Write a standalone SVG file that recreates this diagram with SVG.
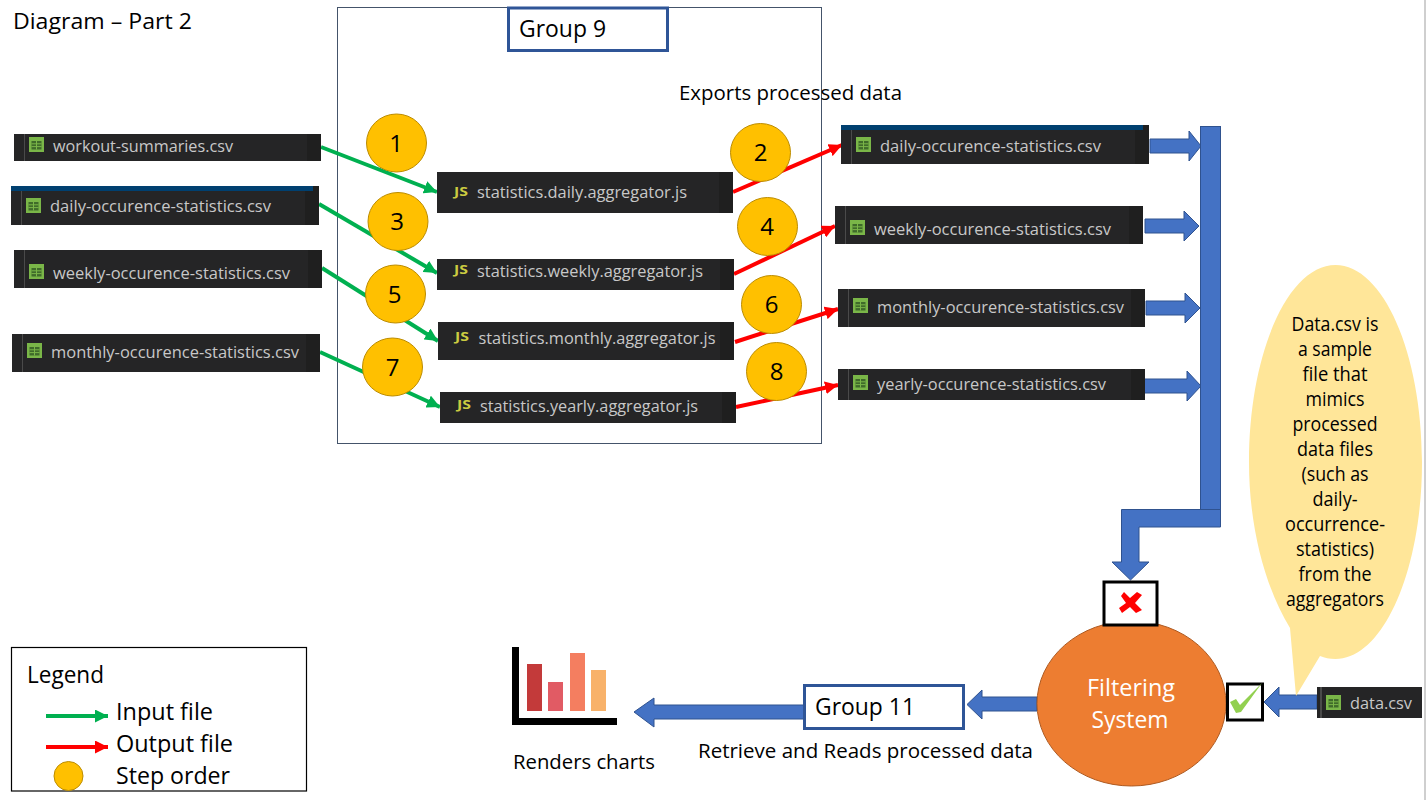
<svg xmlns="http://www.w3.org/2000/svg" width="1428" height="800" viewBox="0 0 1428 800">
<style>
text{font-family:"Open Sans","Noto Sans","Liberation Sans",sans-serif;fill:#000}
.t{font-size:20.5px}
.g{font-size:24px}
.f{font-size:17px;fill:#c8c8c8}
.c{font-size:19.5px;text-anchor:middle}
.n{font-size:24px;text-anchor:middle}
.w{font-size:24.5px;fill:#fff;text-anchor:middle}
.js{font-size:12px;font-weight:700;fill:#cbcb41}
.tile{fill:#252526}
.side{fill:#1f1f1f}
.sep{fill:#4a4a4a}
.band{fill:#004070}
.step{fill:#ffc000;stroke:#bc8c00;stroke-width:1}
.blk{fill:#4472c4;stroke:#2f528f;stroke-width:1}
.in{stroke:#00b050;stroke-width:4;fill:none}
.out{stroke:#f00;stroke-width:4;fill:none}
.frame{fill:#fff;stroke:#2f5597;stroke-width:3}
.box{fill:#fff;stroke:#000;stroke-width:3}
</style>
<defs>
<marker id="ag" markerUnits="userSpaceOnUse" markerWidth="13" markerHeight="13" viewBox="0 0 13 13" refX="13" refY="6.5" orient="auto"><path d="M0 0L13 6.5L0 13Z" fill="#00b050"/></marker>
<marker id="ar" markerUnits="userSpaceOnUse" markerWidth="13" markerHeight="13" viewBox="0 0 13 13" refX="13" refY="6.5" orient="auto"><path d="M0 0L13 6.5L0 13Z" fill="#f00"/></marker>
<g id="csv"><rect width="15" height="15" fill="#7ab648"/><rect x="2.5" y="4" width="10" height="8.5" fill="#3f6b2a"/><path d="M2.5 6.8H12.5M2.5 9.6H12.5M7.5 4V12.5" stroke="#7ab648" stroke-width="1"/></g>
</defs>
<rect width="1428" height="800" fill="#fff"/>
<rect x="1424" y="0" width="2" height="800" fill="#cfcfcf"/>

<text id="title" class="g" style="font-size:22px" x="13" y="29" textLength="179" lengthAdjust="spacingAndGlyphs">Diagram – Part 2</text>

<g id="group9">
<rect x="337.5" y="7.5" width="484" height="436" fill="#fff" stroke="#44546a" stroke-width="1"/>
<rect class="frame" x="508.5" y="8" width="159" height="42.5"/>
<text class="g" x="519" y="37" textLength="87" lengthAdjust="spacingAndGlyphs">Group 9</text>
</g>
<text id="exports" class="t" x="679" y="100" textLength="223" lengthAdjust="spacingAndGlyphs">Exports processed data</text>

<g id="connectors">
<line class="in" x1="321" y1="147" x2="437" y2="192" marker-end="url(#ag)"/>
<line class="in" x1="319" y1="204" x2="437" y2="273" marker-end="url(#ag)"/>
<line class="in" x1="322" y1="268" x2="438" y2="341" marker-end="url(#ag)"/>
<line class="in" x1="320" y1="352" x2="440" y2="407" marker-end="url(#ag)"/>
<line class="out" x1="733" y1="192" x2="842" y2="145" marker-end="url(#ar)"/>
<line class="out" x1="734" y1="274" x2="835" y2="226" marker-end="url(#ar)"/>
<line class="out" x1="735" y1="342" x2="838" y2="309" marker-end="url(#ar)"/>
<line class="out" x1="736" y1="407" x2="838" y2="385" marker-end="url(#ar)"/>
<polygon class="blk" points="1150,139 1189,139 1189,131 1201,146 1189,161 1189,153 1150,153"/>
<polygon class="blk" points="1145,219 1184,219 1184,211 1199,226 1184,241 1184,233 1145,233"/>
<polygon class="blk" points="1146,301 1185,301 1185,293 1200,308 1185,323 1185,315 1146,315"/>
<polygon class="blk" points="1143,379 1187,379 1187,371 1201,386 1187,401 1187,393 1143,393"/>
<rect class="blk" x="1200.5" y="126.5" width="20" height="383"/>
<polygon class="blk" points="1220.5,509.5 1121.5,509.5 1121.5,562 1112,562 1130.5,580 1149,562 1139,562 1139,527 1220.5,527"/>
<polygon class="blk" points="1317,695 1279,695 1279,687 1264,702 1279,717 1279,709 1317,709"/>
<polygon class="blk" points="1037,697 982,697 982,690 967,704.5 982,719 982,711 1037,711"/>
<polygon class="blk" points="804,705 654,705 654,698 634,712 654,727 654,719 804,719"/>
</g>

<g id="file-workout"><rect class="tile" x="14" y="134" width="307" height="27"/><rect class="side" x="307" y="134" width="14" height="27"/><rect class="sep" x="24" y="134" width="1" height="27"/><use href="#csv" x="29" y="137"/><text class="f" x="53" y="152" textLength="180" lengthAdjust="spacingAndGlyphs">workout-summaries.csv</text></g>
<g id="file-daily-in"><rect class="tile" x="11" y="186" width="308" height="39"/><rect class="side" x="305" y="186" width="14" height="39"/><rect class="band" x="11" y="186" width="302" height="5"/><rect class="sep" x="21" y="191" width="1" height="34"/><use href="#csv" x="26" y="198"/><text class="f" x="50" y="212" textLength="221" lengthAdjust="spacingAndGlyphs">daily-occurence-statistics.csv</text></g>
<g id="file-weekly-in"><rect class="tile" x="14" y="250" width="308" height="38"/><rect class="side" x="308" y="250" width="14" height="38"/><rect class="sep" x="24" y="250" width="1" height="38"/><use href="#csv" x="29" y="264"/><text class="f" x="53" y="279" textLength="237" lengthAdjust="spacingAndGlyphs">weekly-occurence-statistics.csv</text></g>
<g id="file-monthly-in"><rect class="tile" x="12" y="334" width="308" height="38"/><rect class="side" x="306" y="334" width="14" height="38"/><rect class="sep" x="22" y="334" width="1" height="38"/><use href="#csv" x="27" y="343"/><text class="f" x="51" y="358" textLength="248" lengthAdjust="spacingAndGlyphs">monthly-occurence-statistics.csv</text></g>

<g id="js-daily"><rect class="tile" x="437" y="172" width="296" height="41"/><rect class="side" x="719" y="172" width="14" height="41"/><text class="js" x="454" y="196" textLength="14" lengthAdjust="spacingAndGlyphs">JS</text><text class="f" x="477" y="198" textLength="210" lengthAdjust="spacingAndGlyphs">statistics.daily.aggregator.js</text></g>
<g id="js-weekly"><rect class="tile" x="437" y="259" width="297" height="31"/><rect class="side" x="720" y="259" width="14" height="31"/><text class="js" x="454" y="274" textLength="14" lengthAdjust="spacingAndGlyphs">JS</text><text class="f" x="477" y="277" textLength="226" lengthAdjust="spacingAndGlyphs">statistics.weekly.aggregator.js</text></g>
<g id="js-monthly"><rect class="tile" x="438" y="322" width="296" height="38"/><rect class="side" x="720" y="322" width="14" height="38"/><text class="js" x="455" y="341" textLength="14" lengthAdjust="spacingAndGlyphs">JS</text><text class="f" x="478.5" y="344" textLength="237" lengthAdjust="spacingAndGlyphs">statistics.monthly.aggregator.js</text></g>
<g id="js-yearly"><rect class="tile" x="440" y="392" width="296" height="31"/><rect class="side" x="722" y="392" width="14" height="31"/><text class="js" x="457" y="409" textLength="14" lengthAdjust="spacingAndGlyphs">JS</text><text class="f" x="480" y="412" textLength="218" lengthAdjust="spacingAndGlyphs">statistics.yearly.aggregator.js</text></g>

<g id="file-daily-out"><rect class="tile" x="841" y="125" width="308" height="39"/><rect class="side" x="1135" y="125" width="14" height="39"/><rect class="band" x="841" y="125" width="302" height="5"/><rect class="sep" x="851" y="130" width="1" height="34"/><use href="#csv" x="856" y="137"/><text class="f" x="880" y="152" textLength="221" lengthAdjust="spacingAndGlyphs">daily-occurence-statistics.csv</text></g>
<g id="file-weekly-out"><rect class="tile" x="835" y="206" width="308" height="38"/><rect class="side" x="1129" y="206" width="14" height="38"/><rect class="sep" x="845" y="206" width="1" height="38"/><use href="#csv" x="850" y="220"/><text class="f" x="874" y="235" textLength="237" lengthAdjust="spacingAndGlyphs">weekly-occurence-statistics.csv</text></g>
<g id="file-monthly-out"><rect class="tile" x="838" y="289" width="307" height="38"/><rect class="side" x="1131" y="289" width="14" height="38"/><rect class="sep" x="848" y="289" width="1" height="38"/><use href="#csv" x="853" y="298"/><text class="f" x="877" y="313" textLength="247" lengthAdjust="spacingAndGlyphs">monthly-occurence-statistics.csv</text></g>
<g id="file-yearly-out"><rect class="tile" x="838" y="369" width="307" height="31"/><rect class="side" x="1131" y="369" width="14" height="31"/><rect class="sep" x="848" y="369" width="1" height="31"/><use href="#csv" x="853" y="375"/><text class="f" x="877" y="390" textLength="229" lengthAdjust="spacingAndGlyphs">yearly-occurence-statistics.csv</text></g>

<g id="step-1"><ellipse class="step" cx="396.5" cy="143" rx="30" ry="29"/><text class="n" x="396" y="152">1</text></g>
<g id="step-2"><ellipse class="step" cx="760.5" cy="152.5" rx="30" ry="29"/><text class="n" x="760.5" y="161">2</text></g>
<g id="step-3"><ellipse class="step" cx="398" cy="221.5" rx="30" ry="29"/><text class="n" x="397" y="230">3</text></g>
<g id="step-4"><ellipse class="step" cx="767.5" cy="226.5" rx="30" ry="29"/><text class="n" x="767" y="235">4</text></g>
<g id="step-5"><ellipse class="step" cx="395.5" cy="294" rx="30" ry="29"/><text class="n" x="394.5" y="303">5</text></g>
<g id="step-6"><ellipse class="step" cx="771.5" cy="304.5" rx="30" ry="29"/><text class="n" x="771.5" y="313">6</text></g>
<g id="step-7"><ellipse class="step" cx="392.5" cy="367" rx="30" ry="29"/><text class="n" x="392.5" y="376">7</text></g>
<g id="step-8"><ellipse class="step" cx="776.5" cy="371.5" rx="30" ry="29"/><text class="n" x="776.5" y="380">8</text></g>

<g id="note">
<path d="M1290,628 C1264,585 1249,525 1249,462 C1249,353 1288,265 1335.5,265 C1383,265 1422,353 1422,462 C1422,571 1383,659 1335.5,659 C1329,659 1325,658 1320,656 L1296,696 Z" fill="#ffe699"/>
<text class="c" x="1335" y="331" textLength="87" lengthAdjust="spacingAndGlyphs">Data.csv is</text>
<text class="c" x="1335" y="356" textLength="74" lengthAdjust="spacingAndGlyphs">a sample</text>
<text class="c" x="1335" y="381" textLength="65" lengthAdjust="spacingAndGlyphs">file that</text>
<text class="c" x="1335" y="406" textLength="59" lengthAdjust="spacingAndGlyphs">mimics</text>
<text class="c" x="1335" y="431" textLength="85" lengthAdjust="spacingAndGlyphs">processed</text>
<text class="c" x="1335" y="456" textLength="76" lengthAdjust="spacingAndGlyphs">data files</text>
<text class="c" x="1335" y="481" textLength="67" lengthAdjust="spacingAndGlyphs">(such as</text>
<text class="c" x="1335" y="506" textLength="45" lengthAdjust="spacingAndGlyphs">daily-</text>
<text class="c" x="1335" y="531" textLength="100" lengthAdjust="spacingAndGlyphs">occurrence-</text>
<text class="c" x="1335" y="556" textLength="78" lengthAdjust="spacingAndGlyphs">statistics)</text>
<text class="c" x="1335" y="581" textLength="73" lengthAdjust="spacingAndGlyphs">from the</text>
<text class="c" x="1335" y="606" textLength="98" lengthAdjust="spacingAndGlyphs">aggregators</text>
</g>

<g id="file-data"><rect class="tile" x="1317" y="687" width="105" height="31"/><rect class="sep" x="1320" y="687" width="2" height="31"/><use href="#csv" x="1326" y="695"/><text class="f" x="1350" y="709" textLength="62" lengthAdjust="spacingAndGlyphs">data.csv</text></g>

<g id="filtering-system">
<ellipse cx="1131.5" cy="703.5" rx="94.5" ry="82.5" fill="#ed7d31" stroke="#ae5a21" stroke-width="1"/>
<text class="w" x="1131" y="696" textLength="88" lengthAdjust="spacingAndGlyphs">Filtering</text>
<text class="w" x="1130" y="728" textLength="77" lengthAdjust="spacingAndGlyphs">System</text>
</g>
<g id="blocked">
<rect class="box" x="1104" y="582" width="53" height="43"/>
<path d="M1124,592 L1130,598 L1137,592 L1142,595 L1135,603 L1142,610 L1136,613 L1130,607 L1122,613 L1119,608 L1126,603 L1121,596 Z" fill="#f00"/>
</g>
<g id="accepted">
<rect class="box" x="1227.5" y="684" width="35" height="36"/>
<path d="M1230,702 L1236,699 L1240,705 L1262,683 L1241,712 L1236,713 Z" fill="#92d050"/>
</g>

<g id="group11">
<rect class="frame" x="804.5" y="685.5" width="159" height="43"/>
<text class="g" x="815" y="715" textLength="100" lengthAdjust="spacingAndGlyphs">Group 11</text>
</g>
<text id="retrieve" class="t" x="698" y="758" textLength="335" lengthAdjust="spacingAndGlyphs">Retrieve and Reads processed data</text>

<g id="chart">
<path d="M512,647H519V718H617V725H512Z" fill="#000"/>
<rect x="527" y="664" width="15" height="47" fill="#c33a3a"/>
<rect x="548" y="682" width="15" height="29" fill="#e15b64"/>
<rect x="570" y="653" width="15" height="58" fill="#f47e60"/>
<rect x="591" y="670" width="15" height="41" fill="#f8b26a"/>
</g>
<text id="renders" class="t" x="513" y="769" textLength="142" lengthAdjust="spacingAndGlyphs">Renders charts</text>

<g id="legend">
<rect x="11.5" y="647.5" width="295" height="143.5" fill="#fff" stroke="#000" stroke-width="1.2"/>
<text class="g" x="27" y="683" textLength="77" lengthAdjust="spacingAndGlyphs">Legend</text>
<line class="in" x1="46" y1="716" x2="108" y2="716" marker-end="url(#ag)"/>
<text class="g" x="116" y="720" textLength="97" lengthAdjust="spacingAndGlyphs">Input file</text>
<line class="out" x1="46" y1="747" x2="108" y2="747" marker-end="url(#ar)"/>
<text class="g" x="116" y="752" textLength="117" lengthAdjust="spacingAndGlyphs">Output file</text>
<circle class="step" cx="68.5" cy="776" r="14.5"/>
<text class="g" x="116" y="784" textLength="114" lengthAdjust="spacingAndGlyphs">Step order</text>
</g>
</svg>
